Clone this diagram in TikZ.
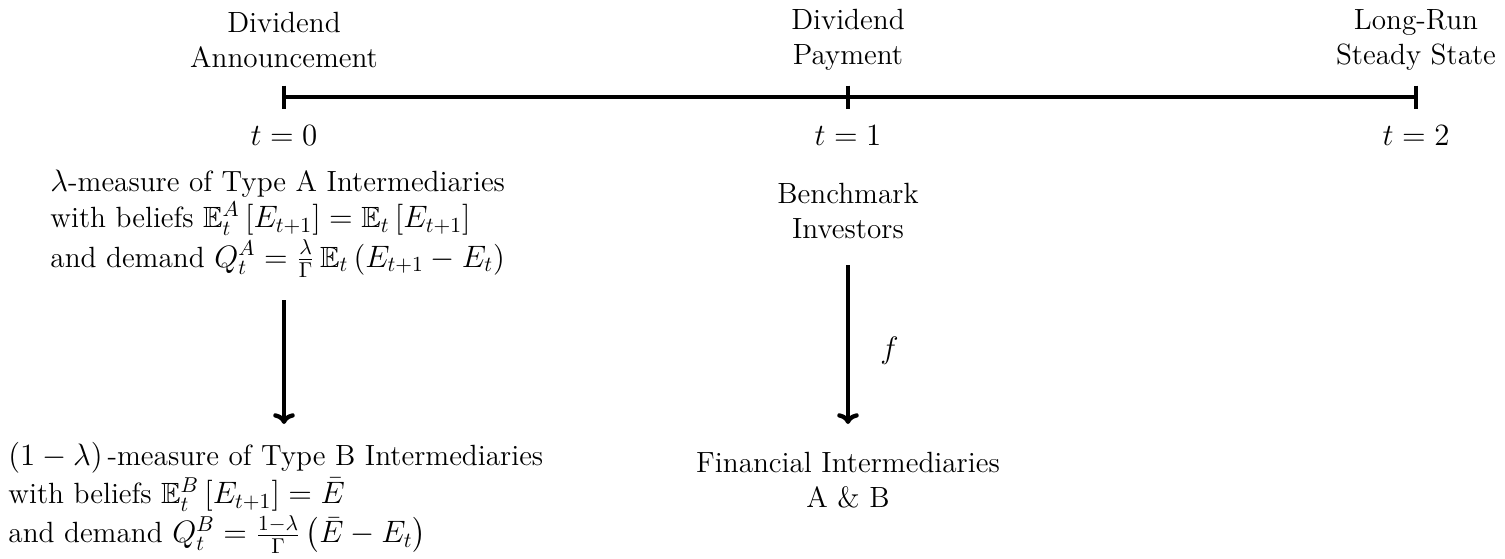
\documentclass[tikz,border=0pt]{standalone}
\usepackage{amsmath,amssymb}
\usetikzlibrary{arrows.meta}
\newcommand{\fs}{\fontsize{13.6}{16.3}\selectfont\lineskiplimit=1.5pt\lineskip=2pt}
\begin{document}
\begin{tikzpicture}[x=0.4651pt,y=-0.4651pt,
  lbl/.style={align=center,inner sep=0pt,font=\fs},
  blk/.style={align=left,inner sep=0pt,anchor=west,font=\fs},
  tl/.style={line width=2.2pt},
  arr/.style={line width=2pt,-{To[length=5pt,width=10pt]}}]
\useasboundingbox (0,0) rectangle (1505,558);
% timeline
\coordinate (t0) at (284,97);
\coordinate (t1) at (848,97);
\coordinate (t2) at (1416,97);
\draw[tl] (t0) -- (t2);
\foreach \c in {t0,t1,t2}{\draw[tl] ([yshift=11.5*0.4651pt]\c) -- ([yshift=-11.5*0.4651pt]\c);}
\node[lbl] (ann) at (284,40) {Dividend\\Announcement};
\node[lbl] (pay) at (848,40) {Dividend\\Payment};
\node[lbl] (lr) at (1416,40) {Long-Run\\Steady State};
\node[lbl] (l0) at (284,136) {$t=0$};
\node[lbl] (l1) at (848,136) {$t=1$};
\node[lbl] (l2) at (1416,136) {$t=2$};
% blocks
\node[blk] (A) at (50,224) {$\lambda$-measure of Type A Intermediaries\\
with beliefs $\mathbb{E}_t^A\left[E_{t+1}\right]=\mathbb{E}_t\left[E_{t+1}\right]$\\
and demand $Q_t^A=\frac{\lambda}{\Gamma}\,\mathbb{E}_t\left(E_{t+1}-E_t\right)$};
\node[lbl] (BI) at (848,211) {Benchmark\\Investors};
\node[blk] (B) at (8,498) {$\left(1-\lambda\right)$\,-measure of Type B Intermediaries\\
with beliefs $\mathbb{E}_t^B\left[E_{t+1}\right]=\bar{E}$\\
and demand $Q_t^B=\frac{1-\lambda}{\Gamma}\left(\bar{E}-E_t\right)$};
\node[lbl] (FI) at (848,480) {Financial Intermediaries\\A \& B};
% arrows
\coordinate (a1) at (284,300);
\coordinate (a2) at (284,424);
\coordinate (b1) at (848,265);
\coordinate (b2) at (848,424);
\draw[arr] (a1) -- (a2);
\draw[arr] (b1) -- node[pos=0.54,right=14pt,inner sep=0pt,font=\fs] (fl) {$f$} (b2);
\end{tikzpicture}
\end{document}
